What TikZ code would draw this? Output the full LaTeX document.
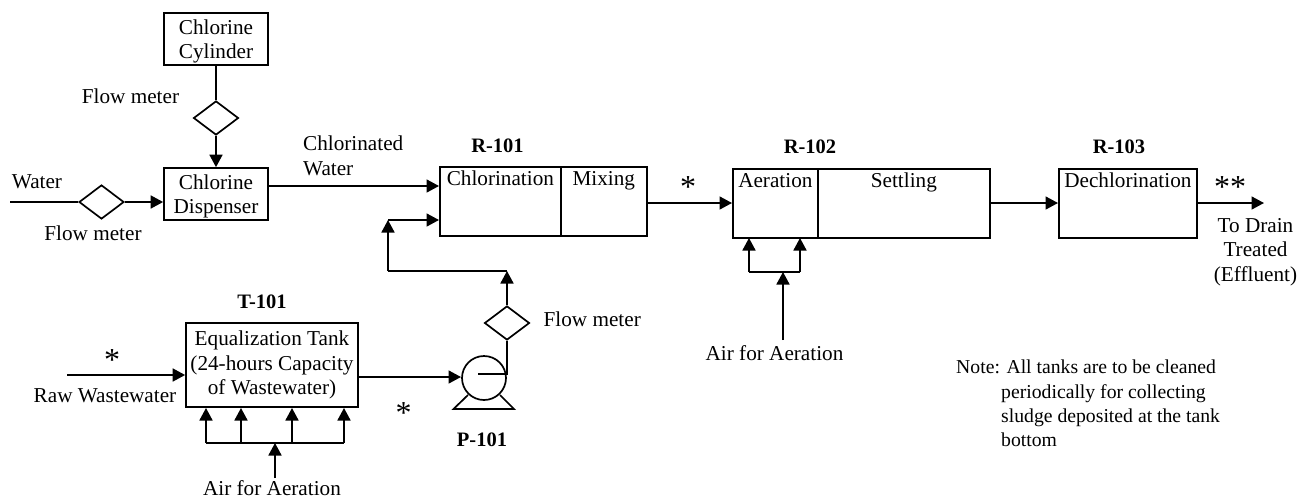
\documentclass[tikz,border=0pt]{standalone}
\usepackage{fontspec}
\setmainfont{Liberation Serif}
\usepackage{tikz}
\usetikzlibrary{
  arrows.meta,
  shapes.geometric
}
\tikzset{
  every node/.style={font=\fontsize{21.2}{24.6}\selectfont},
  tank/.style={draw,line width=1.7pt,align=center,inner xsep=2pt,inner ysep=5pt},
  twoline/.style={tank,minimum width=104pt,minimum height=52pt,text depth=0pt},
  chamber/.style={tank,text height=14pt,text depth=45pt},
  meter/.style={draw,diamond,line width=1.7pt,aspect=1.3,minimum width=45pt,minimum height=34pt,inner sep=0pt},
  pump/.style={draw,circle,line width=1.7pt,minimum size=44pt,inner sep=0pt},
  flow/.style={line width=1.7pt,-{Triangle[length=12.5pt,width=13pt]}},
  pipe/.style={line width=1.7pt},
  tag/.style={font=\fontsize{20.5}{24}\selectfont\bfseries},
  star/.style={font=\fontsize{32}{32}\selectfont,inner sep=0pt},
  notetext/.style={font=\fontsize{19.7}{24.3}\selectfont,align=left,anchor=north west,inner sep=0pt},
}

\begin{document}
\begin{tikzpicture}[x=1pt,y=-1pt]
\useasboundingbox (0,0) rectangle (1299,499);
% units and equipment
\node[twoline] (cylinder) at (216,39) {Chlorine\\Cylinder};
\node[meter] (fm1) at (216,118) {};
\node[twoline] (dispenser) at (216,194) {Chlorine\\Dispenser};
\node[meter] (fm2) at (101.5,202) {};
\node[tank,minimum width=172pt,minimum height=84pt] (eqtank) at (272,365) {Equalization Tank\\(24-hours Capacity\\of Wastewater)};
\node[pump] (pump1) at (484,378) {};
\node[meter] (fm3) at (507,323) {};
\node[chamber,minimum width=121pt,anchor=north west] (r1a) at (439,166) {Chlorination};
\node[chamber,minimum width=86pt,anchor=north west] (r1b) at (560,166) {Mixing};
\node[chamber,minimum width=85pt,anchor=north west] (r2a) at (732,168) {Aeration};
\node[chamber,minimum width=172pt,anchor=north west] (r2b) at (817,168) {Settling};
\node[chamber,minimum width=138pt,anchor=north west] (r3) at (1058,168) {Dechlorination};
% free ends and junctions
\coordinate (water) at (10,202);
\coordinate (rawin) at (67,375);
\coordinate (r1in1) at (439,186);
\coordinate (r1in2) at (439,220);
\coordinate (r1bend) at (388,220);
\coordinate (r1up) at (388,271);
\coordinate (fm3up) at (507,271);
\coordinate (shaft) at (478,374);
\coordinate (shaftr) at (507,374);
\coordinate (pumpin) at (461,377);
\coordinate (drain) at (1264,203);
\coordinate (air1) at (275,478);
\coordinate (air1j) at (275,443);
\coordinate (air2) at (783,340);
\coordinate (air2j) at (783,272);
% streams
\draw[pipe] (cylinder) -- (fm1);
\draw[flow] (fm1) -- (dispenser);
\draw[pipe] (water) -- (fm2);
\draw[flow] (fm2) -- (dispenser.west |- fm2);
\draw[flow] (dispenser.east |- r1in1) -- (r1in1);
\draw[flow] (r1bend) -- (r1in2);
\draw[flow] (r1up) -- (r1bend);
\draw[flow] (rawin) -- (eqtank.west |- rawin);
\draw[flow] (eqtank.east |- pumpin) -- (pumpin);
\draw[pipe] (shaft) -- (shaftr) -- (fm3);
\draw[pipe] (r1up) -- (fm3up);
\draw[flow] (fm3) -- (fm3up);
\draw[pipe] (468,395) -- (453.5,409) -- (514,409) -- (500,395);
\draw[flow] (r1b.east |- drain) -- (r2a.west |- drain);
\draw[flow] (r2b.east |- drain) -- (r3.west |- drain);
\draw[flow] (r3.east |- drain) -- (drain);
% air headers
\draw[flow] (206,443) -- (206,408);
\draw[flow] (241,443) -- (241,408);
\draw[flow] (292,443) -- (292,408);
\draw[flow] (344,443) -- (344,408);
\draw[pipe] (206,443) -- (344,443);
\draw[flow] (air1) -- (air1j);
\draw[flow] (749,272) -- (749,238);
\draw[flow] (800,272) -- (800,238);
\draw[pipe] (749,272) -- (800,272);
\draw[flow] (air2) -- (air2j);
% labels
\node[tag] (t101) at (262,302) {T-101};
\node[tag] (p101) at (482,440) {P-101};
\node[tag] (r101) at (497.5,146) {R-101};
\node[tag] (r102) at (810,147) {R-102};
\node[tag] (r103) at (1119,147) {R-103};
\node (fmlab1) at (130.5,96) {Flow meter};
\node (fmlab2) at (93,233) {Flow meter};
\node[anchor=west,inner sep=0pt] (fmlab3) at (543.5,319) {Flow meter};
\node (waterlab) at (37,182) {Water};
\node[align=left,anchor=west,inner sep=0pt] (chlorlab) at (303,156) {Chlorinated\\Water};
\node (rawlab) at (105,396) {Raw Wastewater};
\node[inner sep=0pt] (airlab1) at (272,488) {Air for Aeration};
\node (airlab2) at (774.5,353) {Air for Aeration};
\node[align=center] (drainlab) at (1255.5,252) {To Drain\\Treated\\(Effluent)};
\node[star] (star1) at (112,360) {*};
\node[star] (star2) at (403.5,413) {*};
\node[star] (star3) at (688,187) {*};
\node[star] (star4) at (1230,187) {**};
\node[notetext] (note) at (956,360) {Note: All tanks are to be cleaned\\\hspace*{45pt}periodically for collecting\\\hspace*{45pt}sludge deposited at the tank\\\hspace*{45pt}bottom};
\end{tikzpicture}
\end{document}
